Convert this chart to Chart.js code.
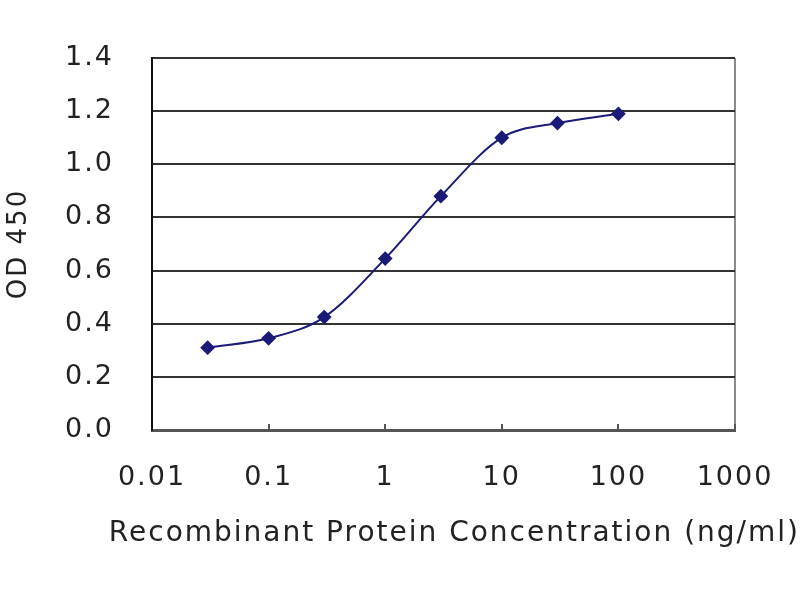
<!DOCTYPE html>
<html>
<head>
<meta charset="utf-8">
<script src="https://cdn.jsdelivr.net/npm/chart.js@4"></script>
<style>
  body { margin: 0; background: #fff; }
  #wrap { width: 800px; height: 600px; }
</style>
</head>
<body>
<div id="wrap"><canvas id="chart"></canvas></div>
<script>
// concentration (ng/ml) and OD 450
const concentrations = [0.03, 0.1, 0.3, 1, 3, 10, 30, 100];
const odValues = [0.31, 0.345, 0.425, 0.645, 0.88, 1.10, 1.155, 1.19];
const xTicks = [0.01, 0.1, 1, 10, 100, 1000];
const xTickLabels = ['0.01', '0.1', '1', '10', '100', '1000'];
const yTicks = [0, 0.2, 0.4, 0.6, 0.8, 1.0, 1.2, 1.4];

const fontFamily = "'DejaVu Sans', sans-serif";
const textColor = '#222';

// the original text is wide, so spread the letters a little
const spacing = {
  id: 'spacing',
  beforeLayout: (chart) => { chart.ctx.letterSpacing = '2px'; },
  beforeDraw: (chart) => { chart.ctx.letterSpacing = '2px'; },
};

const points = concentrations.map((c, i) => ({ x: c, y: odValues[i] }));

new Chart('chart', {
  type: 'line',
  data: {
    datasets: [{
      data: points,
      borderColor: '#1a1a78',
      backgroundColor: '#1a1a78',
      borderWidth: 2,
      pointStyle: 'rectRot',
      pointRadius: 6,
      pointHoverRadius: 6,
      cubicInterpolationMode: 'monotone',
      fill: false,
    }],
  },
  plugins: [spacing],
  options: {
    responsive: true,
    maintainAspectRatio: false,
    animation: false,
    layout: { padding: { top: 58, right: 0, left: 0, bottom: 0 } },
    plugins: {
      legend: { display: false },
      tooltip: { enabled: false },
      title: {
        display: true,
        position: 'bottom',
        align: 'end',
        text: 'Recombinant Protein Concentration (ng/ml)',
        color: textColor,
        font: { family: fontFamily, size: 28, weight: 'normal' },
        padding: { top: 4, bottom: 49 },
      },
    },
    scales: {
      x: {
        type: 'logarithmic',
        min: 0.01,
        max: 1000,
        afterBuildTicks: (scale) => {
          scale.ticks = xTicks.map((v) => ({ value: v }));
        },
        afterFit: (scale) => {
          scale.height = 83.4;
          scale.paddingRight = 65;
        },
        ticks: {
          color: textColor,
          padding: 38,
          autoSkip: false,
          maxRotation: 0,
          font: { family: fontFamily, size: 27 },
          callback: (value) => {
            const i = xTicks.indexOf(value);
            return i >= 0 ? xTickLabels[i] : '';
          },
        },
        grid: {
          drawTicks: true,
          tickLength: -6,
          tickWidth: 2,
          tickColor: '#555',
          lineWidth: 2,
          color: (ctx) => (ctx.tick && ctx.tick.value === 1000 ? '#8a8a8a' : 'rgba(0,0,0,0)'),
        },
        border: { display: true, color: '#555', width: 3 },
      },
      y: {
        min: 0,
        max: 1.4,
        afterBuildTicks: (scale) => {
          scale.ticks = yTicks.map((v) => ({ value: v }));
        },
        afterFit: (scale) => { scale.width = 152; },
        ticks: {
          color: textColor,
          padding: 38,
          font: { family: fontFamily, size: 27 },
          callback: (value) => value.toFixed(1),
        },
        grid: {
          drawTicks: false,
          lineWidth: 2,
          color: (ctx) => (ctx.tick && ctx.tick.value === 0 ? 'rgba(0,0,0,0)' : '#333'),
        },
        border: { display: true, color: '#111', width: 2 },
        title: {
          display: true,
          text: 'OD 450',
          color: textColor,
          font: { family: fontFamily, size: 26 },
          padding: { top: 4, bottom: 0 },
        },
      },
    },
  },
});
</script>
</body>
</html>
